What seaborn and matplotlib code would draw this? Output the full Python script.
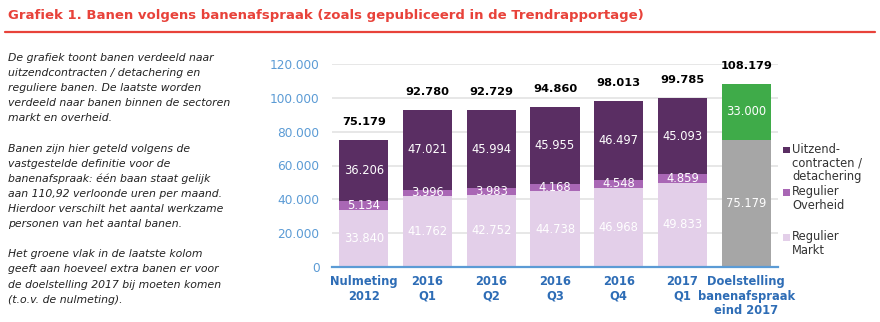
import matplotlib
matplotlib.use("Agg")
import matplotlib.pyplot as plt
import seaborn as sns
import pandas as pd
from matplotlib.patches import Rectangle

# ---- data ----
categories = ["Nulmeting\n2012", "2016\nQ1", "2016\nQ2", "2016\nQ3", "2016\nQ4",
              "2017\nQ1", "Doelstelling\nbanenafspraak\neind 2017"]
regulier_markt = [33840, 41762, 42752, 44738, 46968, 49833]
regulier_overheid = [5134, 3996, 3983, 4168, 4548, 4859]
uitzend = [36206, 47021, 45994, 45955, 46497, 45093]
totals = [75179, 92780, 92729, 94860, 98013, 99785]
doel_basis = 75179
doel_extra = 33000
doel_total = 108179
yticks = [0, 20000, 40000, 60000, 80000, 100000, 120000]
legend_labels = ["Uitzend-\ncontracten /\ndetachering", "Regulier\nOverheid", "Regulier\nMarkt"]

title = "Grafiek 1. Banen volgens banenafspraak (zoals gepubliceerd in de Trendrapportage)"
side_text = [
    "De grafiek toont banen verdeeld naar",
    "uitzendcontracten / detachering en",
    "reguliere banen. De laatste worden",
    "verdeeld naar banen binnen de sectoren",
    "markt en overheid.",
    "",
    "Banen zijn hier geteld volgens de",
    "vastgestelde definitie voor de",
    "banenafspraak: één baan staat gelijk",
    "aan 110,92 verloonde uren per maand.",
    "Hierdoor verschilt het aantal werkzame",
    "personen van het aantal banen.",
    "",
    "Het groene vlak in de laatste kolom",
    "geeft aan hoeveel extra banen er voor",
    "de doelstelling 2017 bij moeten komen",
    "(t.o.v. de nulmeting).",
]

# ---- colours ----
c_dark = "#5a2e63"
c_mid = "#a967b5"
c_light = "#e3cfe9"
c_green = "#3fab49"
c_grey = "#a6a6a6"
c_red = "#e8423a"
c_axis_blue = "#5b9bd5"
c_cat_blue = "#2e6db6"


def fmt(v):
    return f"{v:,}".replace(",", ".")


sns.set_theme(style="white")
plt.rcParams["font.family"] = ["DejaVu Sans"]

fig = plt.figure(figsize=(8.8, 3.22), dpi=100)
ax = fig.add_axes([332 / 880, 1 - 267 / 322, (778 - 332) / 880, (267 - 64) / 322])

# cumulative layers (drawn from top down)
layer_top = totals + [doel_total]
layer_mid = [m + o for m, o in zip(regulier_markt, regulier_overheid)] + [doel_basis]
layer_bot = regulier_markt + [doel_basis]

df = pd.DataFrame({"cat": categories, "top": layer_top, "mid": layer_mid, "bot": layer_bot})
w = 0.77
common = dict(data=df, x="cat", hue="cat", order=categories, hue_order=categories,
              saturation=1, width=w, legend=False, errorbar=None, ax=ax, zorder=2,
              linewidth=0, edgecolor="none")
sns.barplot(y="top", palette=[c_dark] * 6 + [c_green], **common)
sns.barplot(y="mid", palette=[c_mid] * 6 + [c_grey], **common)
sns.barplot(y="bot", palette=[c_light] * 6 + [c_grey], **common)

ax.set_xlim(-0.5, 6.5)
ax.set_ylim(0, 120000)
ax.set_yticks(yticks)
ax.set_yticklabels([fmt(v) for v in yticks], color=c_axis_blue, fontsize=8.7)
ax.set_xticks(range(len(categories)))
ax.set_xticklabels(categories, color=c_cat_blue, fontsize=8.3, fontweight="bold",
                   linespacing=1.12)
ax.set_xlabel("")
ax.set_ylabel("")
ax.tick_params(axis="x", length=0, pad=6)
ax.tick_params(axis="y", length=0, pad=9)
ax.grid(axis="y", color="#e3e3e3", linewidth=1.2, zorder=0)
ax.set_axisbelow(True)
for s in ["top", "right", "left"]:
    ax.spines[s].set_visible(False)
ax.spines["bottom"].set_color(c_axis_blue)
ax.spines["bottom"].set_linewidth(1.6)
ax.spines["bottom"].set_zorder(3)

# value labels
lab_kw = dict(ha="center", va="center", color="white", fontsize=8.3, zorder=4)
tot_kw = dict(ha="center", va="center", color="black", fontsize=8.2, fontweight="bold", zorder=4)
off = 10500
for i in range(6):
    m, o, u = regulier_markt[i], regulier_overheid[i], uitzend[i]
    ax.text(i, m / 2, fmt(m), **lab_kw)
    ax.text(i, m + o / 2, fmt(o), **lab_kw)
    ax.text(i, m + o + u / 2, fmt(u), **lab_kw)
    ax.text(i, totals[i] + off, fmt(totals[i]), **tot_kw)
ax.text(6, doel_basis / 2, fmt(doel_basis), **lab_kw)
ax.text(6, doel_basis + doel_extra / 2, fmt(doel_extra), **lab_kw)
ax.text(6, doel_total + off, fmt(doel_total), **tot_kw)

# legend (manual)
leg_colors = [c_dark, c_mid, c_light]
leg_y = [150, 192, 237]
for lab, col, y in zip(legend_labels, leg_colors, leg_y):
    fig.patches.append(Rectangle((783 / 880, 1 - (y + 3.5) / 322), 6.5 / 880, 6.5 / 322,
                                 transform=fig.transFigure, facecolor=col, edgecolor="none"))
    fig.text(792 / 880, 1 - (y - 7) / 322, lab, ha="left", va="top", fontsize=8.3,
             color="#333333", linespacing=1.07)

# title and rule
fig.text(8 / 880, 1 - 16 / 322, title, ha="left", va="center", color=c_red,
         fontsize=9.5, fontweight="bold")
fig.add_artist(plt.Line2D([5 / 880, 875 / 880], [1 - 32 / 322, 1 - 32 / 322],
                          transform=fig.transFigure, color=c_red, linewidth=1.6))

# side text
y0 = 58
for k, line in enumerate(side_text):
    if line:
        fig.text(8 / 880, 1 - (y0 + k * 15.1) / 322, line, ha="left", va="center",
                 fontsize=7.85, style="italic", color="#222222")

fig.savefig("out.png", dpi=100)
